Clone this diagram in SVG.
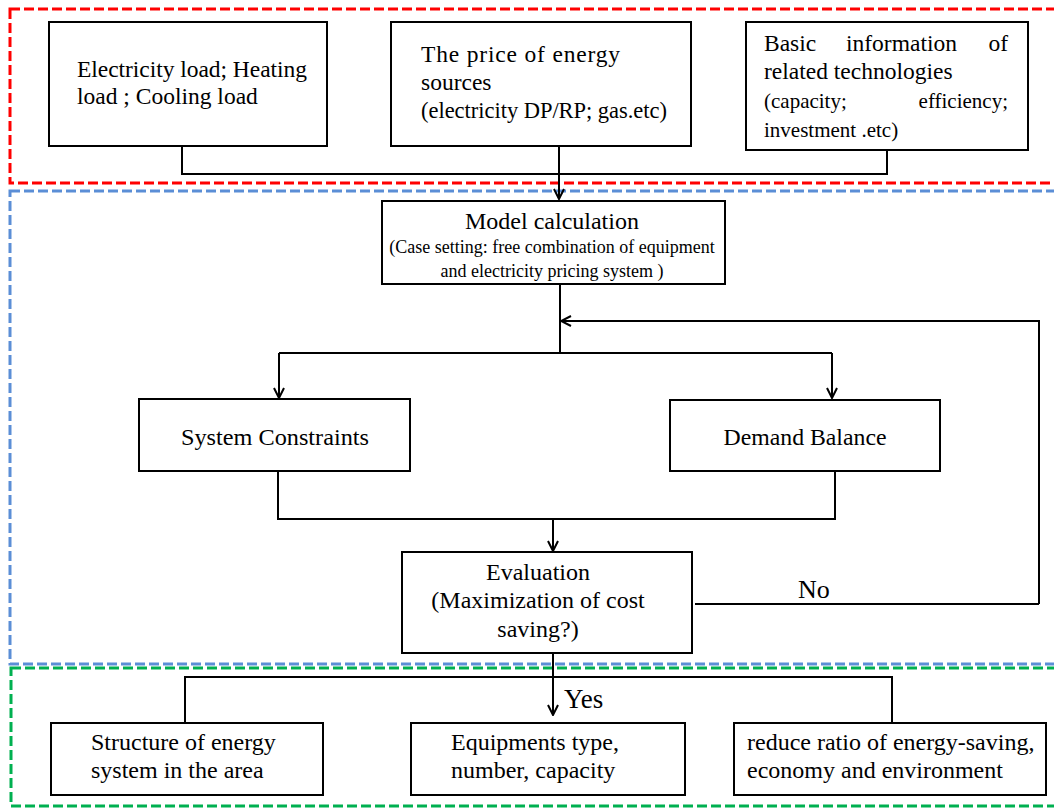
<svg xmlns="http://www.w3.org/2000/svg" width="1054" height="808" viewBox="0 0 1054 808">
<style>
.box{fill:#fff;stroke:#000;stroke-width:2}
.t{font-family:"Liberation Serif","Times New Roman",serif;font-size:23.5px;fill:#000}
.s{font-size:18px}
.m{font-size:24px}
.c{text-anchor:middle}
.e{text-anchor:end}
.con{fill:none;stroke:#000;stroke-width:2}
.frame{fill:none;stroke-width:3;stroke-dasharray:10 4}
</style>
<defs>
<marker id="arr" viewBox="0 0 12 12" refX="11" refY="6" markerWidth="12" markerHeight="12" markerUnits="userSpaceOnUse" orient="auto">
<path d="M1,1 L11,6 L1,11" fill="none" stroke="#000" stroke-width="2"/>
</marker>
</defs>
<g id="frames">
<rect class="frame" x="10" y="9" width="1070" height="174" stroke="#FF0000"/>
<rect class="frame" x="10" y="191" width="1070" height="473" stroke="#5B8ED6"/>
<rect class="frame" x="11" y="668" width="1070" height="138" stroke="#00B050"/>
</g>
<g id="connectors">
<path class="con" d="M182,146 V174 H887 V150"/>
<path class="con" d="M559,146 V199" marker-end="url(#arr)"/>
<path class="con" d="M560,284 V353"/>
<path class="con" d="M1039,604 V321 H561" marker-end="url(#arr)"/>
<path class="con" d="M279,353 H832"/>
<path class="con" d="M279,353 V398" marker-end="url(#arr)"/>
<path class="con" d="M832,353 V398" marker-end="url(#arr)"/>
<path class="con" d="M278,471 V519 H835 V471"/>
<path class="con" d="M553,519 V551" marker-end="url(#arr)"/>
<path class="con" d="M695,604 H1039"/>
<path class="con" d="M553,653 V715" marker-end="url(#arr)"/>
<path class="con" d="M185,723 V677 H892 V723"/>
<text class="t" x="798" y="598" style="font-size:26px">No</text>
<text class="t" x="564" y="708" style="font-size:27px">Yes</text>
</g>
<g id="loads">
<rect class="box" x="49" y="22" width="278" height="124"/>
<text class="t" x="77" y="77" textLength="230">Electricity load; Heating</text>
<text class="t" x="77" y="104">load ; Cooling load</text>
</g>
<g id="prices">
<rect class="box" x="391" y="22" width="300" height="124"/>
<text class="t" x="421" y="62" textLength="199">The price of energy</text>
<text class="t" x="421" y="90">sources</text>
<text class="t" x="421" y="118" style="font-size:22.5px" textLength="246">(electricity DP/RP; gas.etc)</text>
</g>
<g id="techinfo">
<rect class="box" x="746" y="22" width="282" height="128"/>
<text class="t" x="764" y="51">Basic</text>
<text class="t" x="846" y="51">information</text>
<text class="t e" x="1008" y="51">of</text>
<text class="t" x="764" y="79">related technologies</text>
<text class="t" x="764" y="108" style="font-size:21px">(capacity;</text>
<text class="t e" x="1008" y="108" style="font-size:21px">efficiency;</text>
<text class="t" x="764" y="137" style="font-size:21px">investment .etc)</text>
</g>
<g id="model">
<rect class="box" x="382" y="201" width="343" height="83"/>
<text class="t c m" x="552" y="229">Model calculation</text>
<text class="t c s" x="552" y="253">(Case setting: free combination of equipment</text>
<text class="t c s" x="552" y="277">and electricity pricing system )</text>
</g>
<g id="constraints">
<rect class="box" x="139" y="399" width="271" height="72"/>
<text class="t c" x="275" y="445" style="font-size:24px" textLength="188" lengthAdjust="spacingAndGlyphs">System Constraints</text>
</g>
<g id="demand">
<rect class="box" x="670" y="400" width="270" height="71"/>
<text class="t c" x="805" y="445" style="font-size:24px" textLength="163" lengthAdjust="spacingAndGlyphs">Demand Balance</text>
</g>
<g id="evaluation">
<rect class="box" x="402" y="552" width="290" height="101"/>
<text class="t c m" x="538" y="580">Evaluation</text>
<text class="t c m" x="538" y="608">(Maximization of cost</text>
<text class="t c m" x="538" y="637">saving?)</text>
</g>
<g id="structure">
<rect class="box" x="51" y="723" width="272" height="72"/>
<text class="t m" x="91" y="750">Structure of energy</text>
<text class="t m" x="91" y="778">system in the area</text>
</g>
<g id="equipment">
<rect class="box" x="411" y="723" width="274" height="72"/>
<text class="t m" x="451" y="750">Equipments type,</text>
<text class="t m" x="451" y="778">number, capacity</text>
</g>
<g id="reduce">
<rect class="box" x="734" y="723" width="312" height="72"/>
<text class="t m" x="747" y="750">reduce ratio of energy-saving,</text>
<text class="t m" x="747" y="778">economy and environment</text>
</g>
</svg>
